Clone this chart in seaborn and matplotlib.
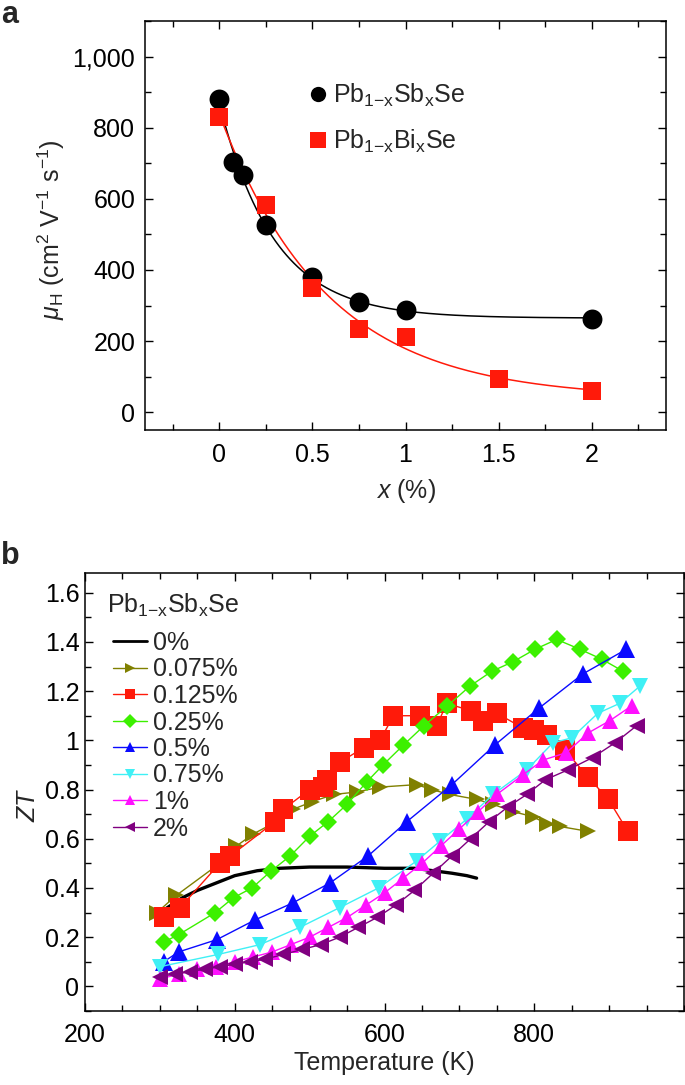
import numpy as np
import pandas as pd
import matplotlib
matplotlib.use("Agg")
import matplotlib.pyplot as plt
from matplotlib.lines import Line2D
from matplotlib.ticker import MultipleLocator, FuncFormatter
import seaborn as sns

# ---------------- data: panel a ----------------
sb_x = [0, 0.075, 0.125, 0.25, 0.5, 0.75, 1.0, 2.0]
sb_mu = [881, 704, 666, 527, 379, 310, 288, 261]
bi_x = [0, 0.25, 0.5, 0.75, 1.0, 1.5, 2.0]
bi_mu = [830, 584, 348, 234, 211, 92, 61]
legend_a = [r"Pb$_{\mathrm{1{-}x}}$Sb$_{\mathrm{x}}$Se", r"Pb$_{\mathrm{1{-}x}}$Bi$_{\mathrm{x}}$Se"]

# ---------------- data: panel b ----------------
title_b = r"Pb$_{\mathrm{1{-}x}}$Sb$_{\mathrm{x}}$Se"
labels_b = ["0%", "0.075%", "0.125%", "0.25%", "0.5%", "0.75%", "1%", "2%"]

T_0 = [305, 330, 350, 375, 400, 430, 460, 500, 550, 600, 640, 665, 690, 710, 723]
ZT_0 = [0.31, 0.36, 0.39, 0.42, 0.45, 0.47, 0.48, 0.485, 0.485, 0.48, 0.48, 0.47, 0.46, 0.45, 0.44]

T_0075 = [296, 322, 380, 402, 425, 456, 478, 503, 532, 563, 594, 643, 663, 687, 723, 745, 772, 798, 817, 834, 872]
ZT_0075 = [0.30, 0.37, 0.50, 0.57, 0.62, 0.67, 0.72, 0.75, 0.78, 0.79, 0.81, 0.82, 0.80, 0.78, 0.76, 0.74, 0.71, 0.69, 0.66, 0.65, 0.63]

T_0125 = [305, 327, 380, 394, 454, 465, 500, 518, 523, 540, 572, 594, 612, 647, 670, 683, 716, 732, 750, 785, 799, 817, 841, 872, 899, 925]
ZT_0125 = [0.28, 0.32, 0.50, 0.53, 0.67, 0.72, 0.80, 0.81, 0.84, 0.91, 0.97, 1.00, 1.10, 1.10, 1.06, 1.15, 1.12, 1.08, 1.11, 1.05, 1.04, 1.02, 0.96, 0.85, 0.76, 0.63]

T_025 = [305, 325, 374, 398, 423, 449, 474, 500, 525, 550, 576, 598, 625, 653, 684, 714, 743, 772, 801, 830, 861, 890, 919]
ZT_025 = [0.18, 0.21, 0.30, 0.36, 0.40, 0.47, 0.53, 0.61, 0.67, 0.74, 0.83, 0.90, 0.98, 1.06, 1.14, 1.22, 1.28, 1.32, 1.37, 1.41, 1.37, 1.33, 1.28]

T_05 = [305, 325, 376, 427, 478, 527, 578, 630, 690, 747, 806, 865, 923]
ZT_05 = [0.10, 0.14, 0.19, 0.27, 0.34, 0.42, 0.53, 0.67, 0.82, 0.98, 1.13, 1.27, 1.37]

T_075 = [300, 378, 434, 487, 540, 592, 643, 674, 710, 745, 790, 825, 850, 885, 914, 941]
ZT_075 = [0.08, 0.13, 0.17, 0.24, 0.32, 0.40, 0.51, 0.59, 0.68, 0.78, 0.88, 0.99, 1.01, 1.11, 1.15, 1.22]

T_1 = [300, 325, 350, 375, 400, 425, 450, 475, 500, 525, 550, 575, 600, 625, 650, 675, 700, 725, 750, 785, 812, 843, 872, 901, 930]
ZT_1 = [0.03, 0.05, 0.07, 0.08, 0.10, 0.12, 0.14, 0.17, 0.20, 0.24, 0.28, 0.33, 0.38, 0.44, 0.50, 0.57, 0.64, 0.71, 0.78, 0.86, 0.92, 0.95, 1.03, 1.08, 1.14]

T_2 = [300, 320, 340, 360, 380, 400, 420, 440, 465, 490, 515, 540, 565, 590, 615, 640, 665, 690, 715, 740, 765, 790, 815, 845, 878, 908, 937]
ZT_2 = [0.04, 0.05, 0.06, 0.07, 0.08, 0.09, 0.10, 0.11, 0.13, 0.15, 0.17, 0.20, 0.24, 0.28, 0.33, 0.39, 0.46, 0.53, 0.60, 0.67, 0.73, 0.78, 0.84, 0.88, 0.93, 0.99, 1.06]

series_T = [T_0, T_0075, T_0125, T_025, T_05, T_075, T_1, T_2]
series_ZT = [ZT_0, ZT_0075, ZT_0125, ZT_025, ZT_05, ZT_075, ZT_1, ZT_2]
colors_b = ["black", "#808000", "#ff1a0a", "#3cf000", "#0a0aff", "#3ff0f5", "#ff10ff", "#800080"]
markers_b = [None, ">", "s", "D", "^", "v", "^", "<"]
msize_b = [0, 11.5, 14, 9.5, 13, 12, 11.5, 11.5]

# ---------------- style ----------------
sns.set_theme(style="ticks")
plt.rcParams["font.family"] = ["Liberation Sans", "DejaVu Sans"]
plt.rcParams["mathtext.fontset"] = "custom"
plt.rcParams["mathtext.rm"] = "Liberation Sans"
plt.rcParams["mathtext.it"] = "Liberation Sans:italic"
plt.rcParams["mathtext.bf"] = "Liberation Sans:bold"
FS = 18

W, H = 685, 1085
fig = plt.figure(figsize=(W / 100, H / 100), dpi=100)


def rect(l, t, r, b):
    return [l / W, 1 - b / H, (r - l) / W, (b - t) / H]


ax_a = fig.add_axes(rect(145, 21, 666, 430))
ax_b = fig.add_axes(rect(85, 573, 684, 1011))

# ---------------- panel a ----------------
def exp_fit(x, y):
    x = np.asarray(x, float)
    y = np.asarray(y, float)
    best = None
    for t in np.linspace(0.05, 2.0, 800):
        M = np.column_stack([np.ones_like(x), np.exp(-x / t)])
        coef, *_ = np.linalg.lstsq(M, y, rcond=None)
        r = np.sum((M @ coef - y) ** 2)
        if best is None or r < best[0]:
            best = (r, t, coef)
    _, t, coef = best
    xx = np.linspace(0, x.max(), 300)
    return xx, coef[0] + coef[1] * np.exp(-xx / t)


fx, fy = exp_fit(sb_x, sb_mu)
sns.lineplot(x=fx, y=fy, ax=ax_a, color="black", lw=1.1, sort=False, estimator=None, zorder=2)
fx2, fy2 = exp_fit(bi_x, bi_mu)
sns.lineplot(x=fx2, y=fy2, ax=ax_a, color="#ff1a0a", lw=1.1, sort=False, estimator=None, zorder=2)

sns.scatterplot(x=sb_x, y=sb_mu, ax=ax_a, color="black", marker="o", s=205, linewidth=0, zorder=3)
sns.scatterplot(x=bi_x, y=bi_mu, ax=ax_a, color="#ff1a0a", marker="s", s=170, linewidth=0, zorder=4)

ax_a.set_xlim(-0.4, 2.4)
ax_a.set_ylim(-50, 1100)
ax_a.set_xticks([0, 0.5, 1, 1.5, 2])
ax_a.set_xticklabels(["0", "0.5", "1", "1.5", "2"])
ax_a.set_yticks([0, 200, 400, 600, 800, 1000])
ax_a.yaxis.set_major_formatter(FuncFormatter(lambda v, p: f"{v:,.0f}"))
ax_a.xaxis.set_minor_locator(MultipleLocator(0.25))
ax_a.yaxis.set_minor_locator(MultipleLocator(100))
ax_a.tick_params(axis="x", which="major", pad=9)
ax_a.tick_params(axis="y", which="major", pad=7)
ax_a.set_xlabel(r"$x$ (%)", fontsize=FS)
ax_a.set_ylabel(r"$\mu_{\mathrm{H}}$ (cm$^{2}$ V$^{-1}$ s$^{-1}$)", fontsize=FS)
ax_a.xaxis.set_label_coords(0.5, -0.115)
ax_a.yaxis.set_label_coords(-0.15, 0.49)

h_a = [Line2D([], [], ls="none", marker="o", color="black", markersize=11, markeredgewidth=0),
       Line2D([], [], ls="none", marker="s", color="#ff1a0a", markersize=11, markeredgewidth=0)]
ax_a.legend(h_a, legend_a, loc="upper left", bbox_to_anchor=(308 / W, 1 - 82 / H),
            bbox_transform=fig.transFigure, frameon=False, fontsize=FS, borderpad=0,
            borderaxespad=0, handlelength=0.8, handletextpad=0.2, labelspacing=0.75)

# ---------------- panel b ----------------
for i in range(len(labels_b)):
    if markers_b[i] is None:
        sns.lineplot(x=series_T[i], y=series_ZT[i], ax=ax_b, color=colors_b[i], lw=2.4,
                     sort=False, estimator=None, zorder=2)
    else:
        sns.lineplot(x=series_T[i], y=series_ZT[i], ax=ax_b, color=colors_b[i], lw=1.0,
                     marker=markers_b[i], markersize=msize_b[i], markeredgewidth=0,
                     sort=False, estimator=None, zorder=3 + i)

ax_b.set_xlim(200, 1000)
ax_b.set_ylim(-0.1, 1.68)
ax_b.set_xticks([200, 400, 600, 800])
ax_b.set_yticks([0, 0.2, 0.4, 0.6, 0.8, 1.0, 1.2, 1.4, 1.6])
ax_b.yaxis.set_major_formatter(FuncFormatter(lambda v, p: f"{v:g}"))
ax_b.xaxis.set_minor_locator(MultipleLocator(50))
ax_b.yaxis.set_minor_locator(MultipleLocator(0.1))
ax_b.tick_params(axis="x", which="major", pad=9)
ax_b.tick_params(axis="y", which="major", pad=4)
ax_b.set_xlabel("Temperature (K)", fontsize=FS)
ax_b.set_ylabel(r"$ZT$", fontsize=FS)
ax_b.xaxis.set_label_coords(0.5, -0.092)
ax_b.yaxis.set_label_coords(-0.075, 0.47)

h_b = []
for i in range(len(labels_b)):
    if markers_b[i] is None:
        h_b.append(Line2D([], [], color=colors_b[i], lw=2.0))
    else:
        h_b.append(Line2D([], [], color=colors_b[i], lw=1.0, marker=markers_b[i],
                          markersize=7, markeredgewidth=0))
ax_b.legend(h_b, labels_b, loc="upper left", bbox_to_anchor=(113 / W, 1 - 631 / H),
            bbox_transform=fig.transFigure, frameon=False, fontsize=FS, borderpad=0,
            borderaxespad=0, handlelength=1.36, handletextpad=0.24, labelspacing=0.10)
fig.text(107 / W, 1 - 613 / H, title_b, fontsize=FS, va="baseline", ha="left")

for ax in (ax_a, ax_b):
    ax.tick_params(which="both", direction="in", top=True, right=True, labelsize=FS,
                   width=1.0, color="black", labelcolor="black")
    ax.tick_params(which="major", length=6)
    ax.tick_params(which="minor", length=4)
    for sp in ax.spines.values():
        sp.set_linewidth(1.1)
        sp.set_color("black")
        sp.set_visible(True)
    ax.set_facecolor("white")

fig.text(1 / W, 1 - 0 / H, "a", fontsize=22, fontweight="bold", va="top", ha="left")
fig.text(1 / W, 1 - 541 / H, "b", fontsize=22, fontweight="bold", va="top", ha="left")

fig.savefig("out.png", dpi=100, facecolor="white")
